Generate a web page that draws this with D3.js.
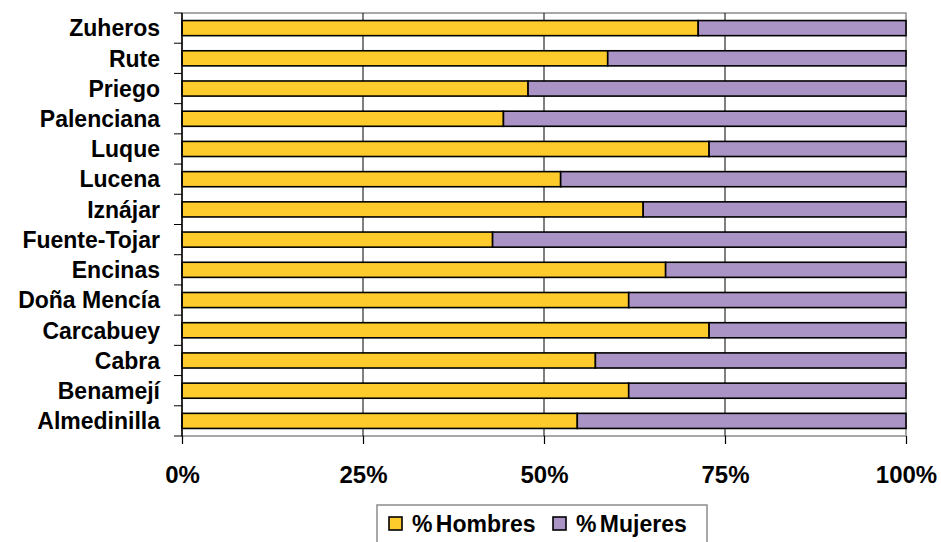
<!DOCTYPE html>
<html>
<head>
<meta charset="utf-8">
<script src="https://cdn.jsdelivr.net/npm/d3@7"></script>
<style>
  body { margin: 0; background: #fff; }
  svg { display: block; font-family: "Liberation Sans", Arial, sans-serif; font-weight: bold; }
</style>
</head>
<body>
<svg id="chart" width="941" height="542"></svg>
<script>
// categories from top to bottom
const municipios = [
  "Zuheros", "Rute", "Priego", "Palenciana", "Luque", "Lucena", "Iznájar",
  "Fuente-Tojar", "Encinas", "Doña Mencía", "Carcabuey", "Cabra", "Benamejí", "Almedinilla"
];
// % hombres
const hombres = [71.3, 58.8, 47.8, 44.4, 72.8, 52.3, 63.7, 42.9, 66.8, 61.7, 72.8, 57.1, 61.7, 54.6];
const mujeres = hombres.map((h) => 100 - h);
const series = ["% Hombres", "% Mujeres"];
const colors = ["#FDCB2C", "#AA93C5"];
const xTicks = [0, 25, 50, 75, 100];

const width = 941, height = 542;
const margin = { top: 13, right: 35, bottom: 106, left: 182 };

const svg = d3.select("#chart");

const rows = municipios.map((m, i) => ({ name: m, h: hombres[i], m: mujeres[i] }));
const stacked = d3.stack().keys(["h", "m"])(rows);

const x = d3.scaleLinear().domain([0, 100]).range([margin.left, width - margin.right]);
const y = d3.scaleBand().domain(municipios)
  .range([margin.top, height - margin.bottom])
  .paddingInner(0.5).paddingOuter(0.25);

// plot frame (grey top/right/bottom)
svg.append("rect")
  .attr("x", x(0)).attr("y", margin.top)
  .attr("width", x(100) - x(0)).attr("height", height - margin.bottom - margin.top)
  .attr("fill", "none").attr("stroke", "#8c8c8c").attr("stroke-width", 1.5);

// vertical gridlines
svg.append("g")
  .selectAll("line")
  .data(xTicks.slice(1, -1))
  .join("line")
  .attr("x1", (d) => x(d)).attr("x2", (d) => x(d))
  .attr("y1", margin.top).attr("y2", height - margin.bottom)
  .attr("stroke", "#000").attr("stroke-width", 1);

// bars
svg.append("g")
  .selectAll("g")
  .data(stacked)
  .join("g")
  .attr("fill", (d, i) => colors[i])
  .selectAll("rect")
  .data((d) => d)
  .join("rect")
  .attr("x", (d) => x(d[0]))
  .attr("y", (d) => y(d.data.name))
  .attr("width", (d) => x(d[1]) - x(d[0]))
  .attr("height", y.bandwidth())
  .attr("stroke", "#000")
  .attr("stroke-width", 1.6);

// y axis: line + ticks at category boundaries
const yAxis = svg.append("g");
yAxis.append("line")
  .attr("x1", x(0)).attr("x2", x(0))
  .attr("y1", margin.top).attr("y2", height - margin.bottom)
  .attr("stroke", "#000").attr("stroke-width", 1.5);
const bounds = d3.range(municipios.length + 1).map((i) => margin.top + i * y.step());
yAxis.selectAll("line.tick")
  .data(bounds)
  .join("line")
  .attr("class", "tick")
  .attr("x1", x(0) - 8).attr("x2", x(0))
  .attr("y1", (d) => d).attr("y2", (d) => d)
  .attr("stroke", "#000").attr("stroke-width", 1);
yAxis.selectAll("text")
  .data(municipios)
  .join("text")
  .attr("x", 160)
  .attr("y", (d) => y(d) + y.bandwidth() / 2)
  .attr("dy", "0.36em")
  .attr("text-anchor", "end")
  .attr("font-size", 23)
  .text((d) => d);

// x axis
const xAxis = svg.append("g")
  .attr("transform", `translate(0 ${height - margin.bottom})`)
  .call(d3.axisBottom(x).tickValues(xTicks).tickFormat((d) => d + "%").tickSize(8).tickPadding(22));
xAxis.select(".domain").remove();
xAxis.selectAll(".tick line").attr("stroke", "#000").attr("stroke-width", 1.2);
xAxis.selectAll(".tick text")
  .attr("font-size", 24)
  .attr("font-family", "Liberation Sans, Arial, sans-serif")
  .attr("font-weight", "bold")
  .attr("fill", "#000");

// legend
const legend = svg.append("g");
legend.append("rect")
  .attr("x", 377).attr("y", 505).attr("width", 330).attr("height", 50)
  .attr("fill", "#fff").attr("stroke", "#8c8c8c").attr("stroke-width", 1.5);
const legendX = [389, 553];
const item = legend.selectAll("g")
  .data(series)
  .join("g")
  .attr("transform", (d, i) => `translate(${legendX[i]} 517)`);
item.append("rect")
  .attr("width", 13).attr("height", 13)
  .attr("fill", (d, i) => colors[i])
  .attr("stroke", "#000").attr("stroke-width", 1.6);
item.append("text")
  .attr("x", 23).attr("y", 7)
  .attr("dy", "0.36em")
  .attr("font-size", 23)
  .attr("word-spacing", -3)
  .text((d) => d);
</script>
</body>
</html>
